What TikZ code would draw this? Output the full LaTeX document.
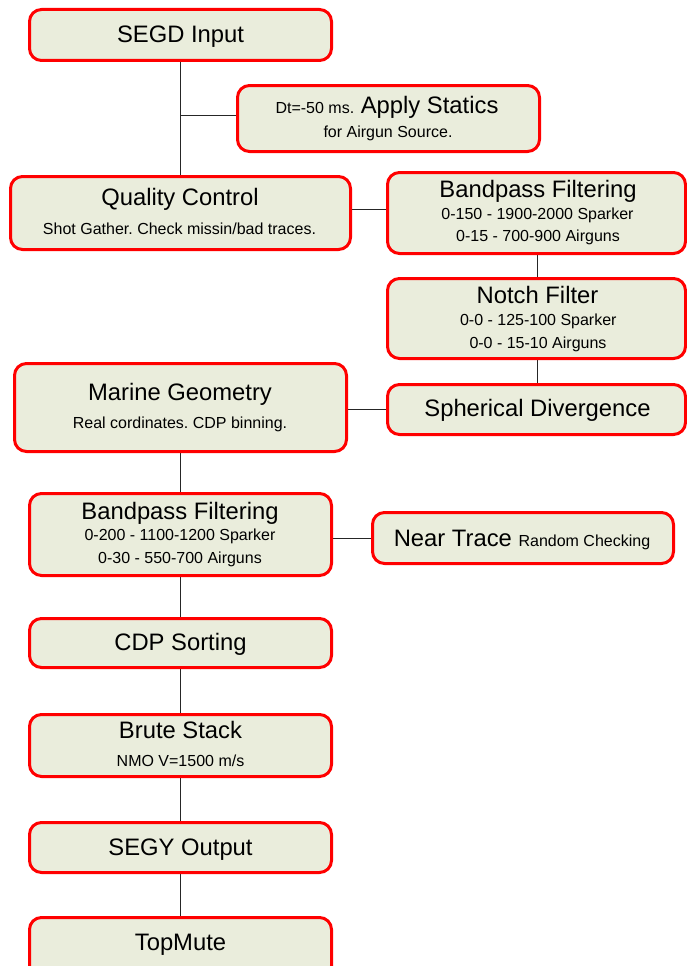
\documentclass[tikz,border=0pt]{standalone}
\usepackage{fontspec}
\setmainfont{Liberation Sans}
\frenchspacing
\usetikzlibrary{fit,backgrounds}
\definecolor{boxfill}{HTML}{EAEDDC}
\definecolor{boxred}{HTML}{FF0000}
\tikzset{
  box/.style={draw=boxred, line width=3pt, fill=boxfill, rounded corners=12pt, inner sep=0pt, rectangle},
  ttl/.style={font=\fontsize{23.8}{26}\selectfont, anchor=base, inner sep=0pt},
  sub/.style={font=\fontsize{16}{18}\selectfont, anchor=base, inner sep=0pt},
  conn/.style={draw=black!85, line width=1pt}
}
\begin{document}
\begin{tikzpicture}[x=1pt,y=-1pt]
\useasboundingbox (0,0) rectangle (686,966);
% boxes
\node[box, fit={(29.5,9.5) (331.5,60.5)}] (segd) {};
\node[box, fit={(237.5,85.5) (539.5,151.5)}] (stat) {};
\node[box, fit={(10.5,176.5) (350.5,249.5)}] (qc) {};
\node[box, fit={(387.5,172.5) (685.5,253.5)}] (bp1) {};
\node[box, fit={(387.5,278.5) (685.5,358.5)}] (notch) {};
\node[box, fit={(14.5,363.5) (346.5,451.5)}] (mg) {};
\node[box, fit={(387.5,384.5) (685.5,434.5)}] (sph) {};
\node[box, fit={(29.5,493.5) (331.5,575.5)}] (bp2) {};
\node[box, fit={(372.5,512.5) (673.5,563.5)}] (near) {};
\node[box, fit={(29.5,618.5) (331.5,667.5)}] (cdp) {};
\node[box, fit={(29.5,714.5) (331.5,776.5)}] (brute) {};
\node[box, fit={(29.5,822.5) (331.5,872.5)}] (segy) {};
\node[box, fit={(29.5,917.5) (331.5,978)}] (top) {};
% texts
\node[ttl] (tsegd) at (180.5,42.5) {SEGD Input};
\node[ttl] (tstat1) at (387,113.3) {{\fontsize{16}{18}\selectfont Dt=-50 ms.} Apply Statics};
\node[sub] (tstat2) at (388,137.5) {for Airgun Source.};
\node[ttl] (tqc1) at (180,205.3) {Quality Control};
\node[sub] (tqc2) at (179.5,234) {Shot Gather. Check missin/bad traces.};
\node[ttl] (tbp11) at (538,197) {Bandpass Filtering};
\node[sub] (tbp12) at (537.5,219.5) {0-150 - 1900-2000 Sparker};
\node[sub] (tbp13) at (538,241.5) {0-15 - 700-900 Airguns};
\node[ttl] (tn1) at (537.5,303.5) {Notch Filter};
\node[sub] (tn2) at (538.3,325.5) {0-0 - 125-100 Sparker};
\node[sub] (tn3) at (538,348) {0-0 - 15-10 Airguns};
\node[ttl] (tmg1) at (180,400.5) {Marine Geometry};
\node[sub] (tmg2) at (180,428.5) {Real cordinates. CDP binning.};
\node[ttl] (tsph) at (537.5,416.5) {Spherical Divergence};
\node[ttl] (tbp21) at (180,519) {Bandpass Filtering};
\node[sub] (tbp22) at (180,540.5) {0-200 - 1100-1200 Sparker};
\node[sub] (tbp23) at (180,563.5) {0-30 - 550-700 Airguns};
\node[ttl] (tnear) at (522,546) {Near Trace {\fontsize{16}{18}\selectfont Random Checking}};
\node[ttl] (tcdp) at (180.5,650.7) {CDP Sorting};
\node[ttl] (tbr1) at (180.5,738.3) {Brute Stack};
\node[sub] (tbr2) at (180.5,766) {NMO V=1500 m/s};
\node[ttl] (tsegy) at (180.5,855) {SEGY Output};
\node[ttl] (ttop) at (180.5,950) {TopMute};
% connectors
\coordinate (j1) at (180.5,115);
\coordinate (j2) at (537.5,250);
\coordinate (j3) at (537.5,355);
\begin{scope}[on background layer]
\fill[white] (0,0) rectangle (686,966);
\draw[conn] (segd.south) -- (qc.north);
\draw[conn] (j1) -- (j1 -| stat.west);
\draw[conn] ([yshift=4pt]qc.east) -- ([yshift=4pt]qc.east -| bp1.west);
\draw[conn] (j2 |- bp1.south) -- (j2 |- notch.north);
\draw[conn] (j3 |- notch.south) -- (j3 |- sph.north);
\draw[conn] (sph.west) -- (sph.west -| mg.east);
\draw[conn] (mg.south) -- (bp2.north);
\draw[conn] (near.west -| bp2.east) -- (near.west);
\draw[conn] (bp2.south) -- (cdp.north);
\draw[conn] (cdp.south) -- (brute.north);
\draw[conn] (brute.south) -- (segy.north);
\draw[conn] (segy.south) -- (top.north);
\end{scope}
\end{tikzpicture}
\end{document}
